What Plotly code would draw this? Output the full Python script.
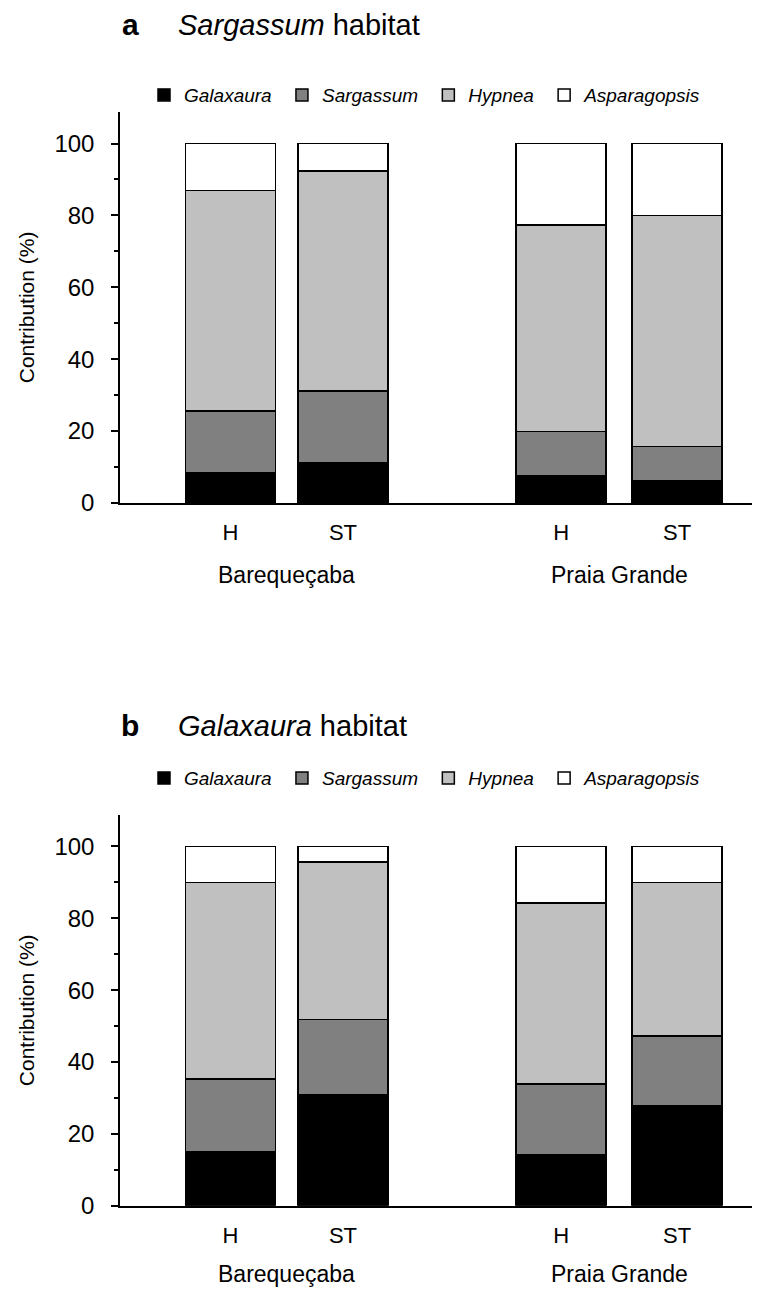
import plotly.graph_objects as go

# ---------------- data ----------------
sites = ["Barequeçaba", "Praia Grande"]
treatments = ["H", "ST", "H", "ST"]
species = ["Galaxaura", "Sargassum", "Hypnea", "Asparagopsis"]
colors = ["#000000", "#808080", "#c0c0c0", "#ffffff"]

# panel a: Sargassum habitat (Bareq H, Bareq ST, PG H, PG ST)
a_galaxaura = [8.5, 11.1, 7.6, 6.1]
a_sargassum = [17.1, 20.1, 12.3, 9.6]
a_hypnea = [61.3, 61.1, 57.4, 64.2]
a_asparagopsis = [13.1, 7.7, 22.7, 20.1]

# panel b: Galaxaura habitat
b_galaxaura = [15.1, 30.8, 14.2, 27.8]
b_sargassum = [20.2, 21.0, 19.7, 19.4]
b_hypnea = [54.7, 43.8, 50.3, 42.8]
b_asparagopsis = [10.0, 4.4, 15.8, 10.0]

panels = [
    ("a", "Sargassum", [a_galaxaura, a_sargassum, a_hypnea, a_asparagopsis]),
    ("b", "Galaxaura", [b_galaxaura, b_sargassum, b_hypnea, b_asparagopsis]),
]

# ---------------- layout geometry ----------------
W, H = 778, 1301
x_pos = [0, 1, 2.94, 3.97]
x_range = [-0.982, 4.636]
FONT = "Liberation Sans, Arial, sans-serif"
PAD = "&nbsp;"

def py(pix):
    return 1 - pix / H

fig = go.Figure()

# pixel positions of each panel: (axis top, axis bottom, legend y, title y, site label y)
panel_px = [(113, 508, 96, 25, 581), (823, 1218, 786, 733, 1287)]

layout_axes = {}
annotations = []
for i, ((letter, habitat, series), (top, bot, leg_y, title_y, site_y)) in enumerate(zip(panels, panel_px)):
    suffix = "" if i == 0 else str(i + 1)
    xa = "x" + suffix
    ya = "y" + suffix
    legend_name = "legend" if i == 0 else "legend" + str(i + 1)
    for k, (name, col, vals) in enumerate(zip(species, colors, series)):
        label = f"<i>{name}</i>" + (PAD if k < len(species) - 1 else "")
        fig.add_trace(go.Bar(
            x=x_pos, y=vals, name=label,
            marker=dict(color=col, line=dict(color="#000000", width=1.5)),
            width=0.8, xaxis=xa, yaxis=ya, legend=legend_name,
            showlegend=True,
        ))
    layout_axes["xaxis" + suffix] = dict(
        domain=[120 / W, 752 / W], range=x_range, anchor=ya,
        showline=True, linecolor="#000000", linewidth=1.5,
        tickvals=x_pos, ticktext=treatments, ticks="",
        ticklabelstandoff=9,
        tickfont=dict(family=FONT, size=22, color="#000000"),
        showgrid=False, zeroline=False,
    )
    layout_axes["yaxis" + suffix] = dict(
        domain=[py(bot), py(top)], range=[0, 108.8], anchor=xa,
        showline=True, linecolor="#000000", linewidth=1.5,
        tickvals=[0, 20, 40, 60, 80, 100], ticks="outside", ticklen=7,
        tickwidth=1.5, tickcolor="#000000",
        minor=dict(tickvals=[10, 30, 50, 70, 90], ticks="outside", ticklen=4,
                   tickwidth=1.5, tickcolor="#000000"),
        ticklabelstandoff=12,
        tickfont=dict(family=FONT, size=24, color="#000000"),
        title=dict(text="Contribution (%)", font=dict(family=FONT, size=21, color="#000000"),
                   standoff=14),
        showgrid=False, zeroline=False,
    )
    layout_axes[legend_name] = dict(
        orientation="h", x=144 / W, y=py(leg_y), xanchor="left", yanchor="middle",
        font=dict(family=FONT, size=19, color="#000000"),
        itemwidth=30,
        bgcolor="rgba(0,0,0,0)", traceorder="normal",
    )
    # panel title
    annotations.append(dict(text=f"<b>{letter}</b>", x=130 / W, y=py(title_y), xref="paper", yref="paper",
                            xanchor="center", yanchor="middle", showarrow=False,
                            font=dict(family=FONT, size=30, color="#000000")))
    annotations.append(dict(text=f"<i>{habitat}</i> habitat", x=176 / W, y=py(title_y), xref="paper",
                            yref="paper", xanchor="left", yanchor="middle", showarrow=False,
                            font=dict(family=FONT, size=29, color="#000000")))
    # site labels
    for j, site in enumerate(sites):
        annotations.append(dict(text=site, x=(x_pos[2 * j] + x_pos[2 * j + 1]) / 2, y=py(site_y),
                                xref=xa, yref="paper", xanchor="center", yanchor="middle",
                                showarrow=False, font=dict(family=FONT, size=23, color="#000000")))

fig.update_layout(
    width=W, height=H, margin=dict(l=0, r=0, t=0, b=0),
    paper_bgcolor="#ffffff", plot_bgcolor="#ffffff",
    barmode="stack", bargap=0.2,
    annotations=annotations,
    **layout_axes,
)

fig.write_html("out.html")
